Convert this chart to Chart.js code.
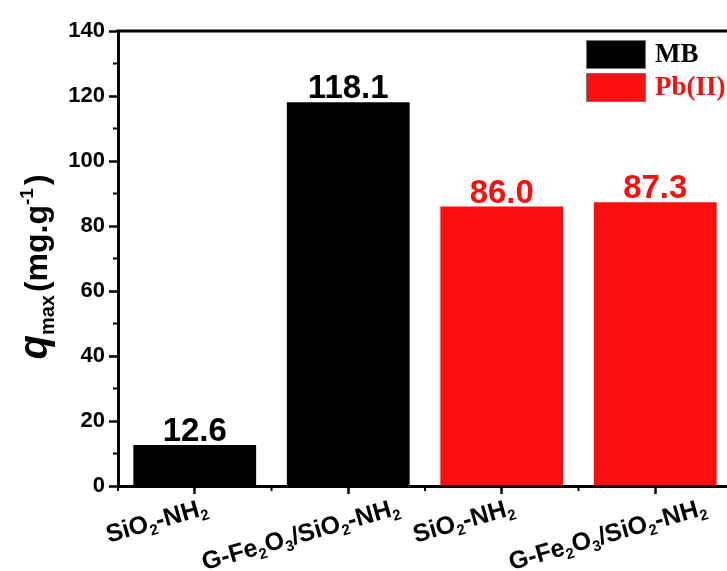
<!DOCTYPE html>
<html>
<head>
<meta charset="utf-8">
<script src="https://cdn.jsdelivr.net/npm/chart.js"></script>
<style>
  html, body { margin: 0; padding: 0; overflow: hidden; background: #fff; }
  #wrap { position: relative; width: 740px; height: 571px; }
</style>
</head>
<body>
<div id="wrap"><canvas id="chart"></canvas></div>
<script>
// data
const categories = ['SiO₂-NH₂', 'G-Fe₂O₃/SiO₂-NH₂', 'SiO₂-NH₂', 'G-Fe₂O₃/SiO₂-NH₂'];
const mbValues = [12.6, 118.1, null, null];
const pbValues = [null, null, 86.0, 87.3];
const seriesNames = ['MB', 'Pb(II)'];
const seriesColors = ['#000000', '#fa0e0e'];
const yMin = 0, yMax = 140, yStep = 20;

const SANS = '"Liberation Sans", Arial, sans-serif';
const SERIF = '"Liberation Serif", "Times New Roman", serif';
const SUBS = '₀₁₂₃₄₅₆₇₈₉';

function line(ctx, x1, y1, x2, y2) {
  ctx.beginPath(); ctx.moveTo(x1, y1); ctx.lineTo(x2, y2); ctx.stroke();
}

// split "SiO₂" into normal / subscript runs
function runs(label) {
  const out = [];
  for (const ch of label) {
    const k = SUBS.indexOf(ch);
    const sub = k >= 0;
    const c = sub ? String(k) : ch;
    if (out.length && out[out.length - 1].sub === sub) out[out.length - 1].t += c;
    else out.push({ t: c, sub });
  }
  return out;
}

const extras = {
  id: 'extras',
  afterDraw(chart) {
    const ctx = chart.ctx, a = chart.chartArea;
    const xs = chart.scales.x, ys = chart.scales.y;
    ctx.save();
    ctx.strokeStyle = '#000';

    // frame top + right
    ctx.lineWidth = 3;
    line(ctx, a.left - 1.5, a.top, a.right + 1.5, a.top);
    line(ctx, a.right, a.top, a.right, a.bottom);

    // minor ticks
    ctx.lineWidth = 2;
    for (let v = yMin + yStep / 2; v < yMax; v += yStep) {
      const py = ys.getPixelForValue(v);
      line(ctx, a.left - 5, py, a.left, py);
    }
    for (let i = 0; i <= categories.length; i++) {
      const px = xs.getPixelForValue(i - 0.5);
      line(ctx, px, a.bottom, px, a.bottom + 5);
    }

    // category labels, rotated, with subscripts
    const ang = 16 * Math.PI / 180;
    const fMain = 'bold 25px ' + SANS, fSub = 'bold 15px ' + SANS;
    ctx.fillStyle = '#000';
    ctx.textAlign = 'left';
    ctx.textBaseline = 'alphabetic';
    categories.forEach((lab, i) => {
      const parts = runs(lab);
      let L = 0;
      parts.forEach(p => { ctx.font = p.sub ? fSub : fMain; p.w = ctx.measureText(p.t).width; L += p.w; });
      const tx = xs.getPixelForValue(i);
      const ax = tx + 0.4 * L * Math.cos(ang) - 26;
      const ay = a.bottom + 28;
      ctx.save();
      ctx.translate(ax, ay);
      ctx.rotate(-ang);
      let cx = -L;
      parts.forEach(p => {
        ctx.font = p.sub ? fSub : fMain;
        ctx.fillText(p.t, cx, p.sub ? 5 : 0);
        cx += p.w;
      });
      ctx.restore();
    });

    // value labels over bars
    ctx.font = 'bold 33px ' + SANS;
    ctx.textAlign = 'center';
    ctx.textBaseline = 'alphabetic';
    chart.data.datasets.forEach((ds, di) => {
      const meta = chart.getDatasetMeta(di);
      ds.data.forEach((v, i) => {
        if (v == null) return;
        const el = meta.data[i];
        ctx.fillStyle = ds.backgroundColor;
        ctx.fillText(v.toFixed(1), el.x, el.y - 4);
      });
    });

    // legend inside the plot, top right
    const lx = a.right - 146, ly = a.top + 9;
    ctx.font = 'bold 27px ' + SERIF;
    ctx.textAlign = 'left';
    ctx.textBaseline = 'middle';
    chart.data.datasets.forEach((ds, di) => {
      const by = ly + di * 33;
      ctx.fillStyle = ds.backgroundColor;
      ctx.fillRect(lx, by, 60, 29);
      ctx.strokeStyle = '#777';
      ctx.lineWidth = 1;
      ctx.strokeRect(lx + 0.5, by + 0.5, 59, 28);
      ctx.fillStyle = ds.backgroundColor;
      ctx.fillText(ds.label, lx + 69, by + 15);
    });

    // y axis title: q_max (mg.g^-1)
    const parts = [
      { t: 'q', f: 'italic bold 40px ' + SANS, dy: 0 },
      { t: 'max', f: 'bold 20px ' + SANS, dy: 7 },
      { t: '(mg.g', f: 'bold 32px ' + SANS, dy: 0 },
      { t: '-1', f: 'bold 19px ' + SANS, dy: -14 },
      { t: ')', f: 'bold 32px ' + SANS, dy: 0 }
    ];
    let total = 0;
    parts.forEach(p => { ctx.font = p.f; p.w = ctx.measureText(p.t).width; total += p.w; });
    total += 6;
    ctx.translate(47, 267);
    ctx.rotate(-Math.PI / 2);
    ctx.fillStyle = '#000';
    ctx.textAlign = 'left';
    ctx.textBaseline = 'alphabetic';
    let cx = -total / 2;
    parts.forEach((p, i) => {
      ctx.font = p.f;
      ctx.fillText(p.t, cx, p.dy);
      cx += p.w + (i === 1 || i === 3 ? 3 : 0);
    });
    ctx.restore();
  }
};

new Chart(document.getElementById('chart'), {
  type: 'bar',
  data: {
    labels: categories,
    datasets: [
      { label: seriesNames[0], data: mbValues, backgroundColor: seriesColors[0] },
      { label: seriesNames[1], data: pbValues, backgroundColor: seriesColors[1] }
    ]
  },
  options: {
    responsive: true,
    maintainAspectRatio: false,
    animation: false,
    devicePixelRatio: 1,
    layout: { padding: { top: 31, right: 8, left: 0, bottom: 0 } },
    datasets: {
      bar: { grouped: false, barPercentage: 0.8, categoryPercentage: 1.0, borderWidth: 0 }
    },
    plugins: {
      legend: { display: false },
      tooltip: { enabled: false }
    },
    scales: {
      x: {
        afterFit(scale) { scale.height = 85; },
        grid: { display: true, drawOnChartArea: false, offset: false, drawTicks: true, tickLength: 8, color: '#000', tickWidth: 2.5 },
        border: { display: true, color: '#000', width: 3 },
        ticks: { display: false, autoSkip: false }
      },
      y: {
        min: yMin,
        max: yMax,
        afterFit(scale) { scale.width = 118; },
        grid: { display: true, drawOnChartArea: false, drawTicks: true, tickLength: 9, color: '#000', tickWidth: 2.5 },
        border: { display: true, color: '#000', width: 3 },
        ticks: {
          stepSize: yStep,
          color: '#000',
          padding: 4,
          font: { family: SANS, size: 22, weight: 'bold' }
        }
      }
    }
  },
  plugins: [extras]
});
</script>
</body>
</html>
